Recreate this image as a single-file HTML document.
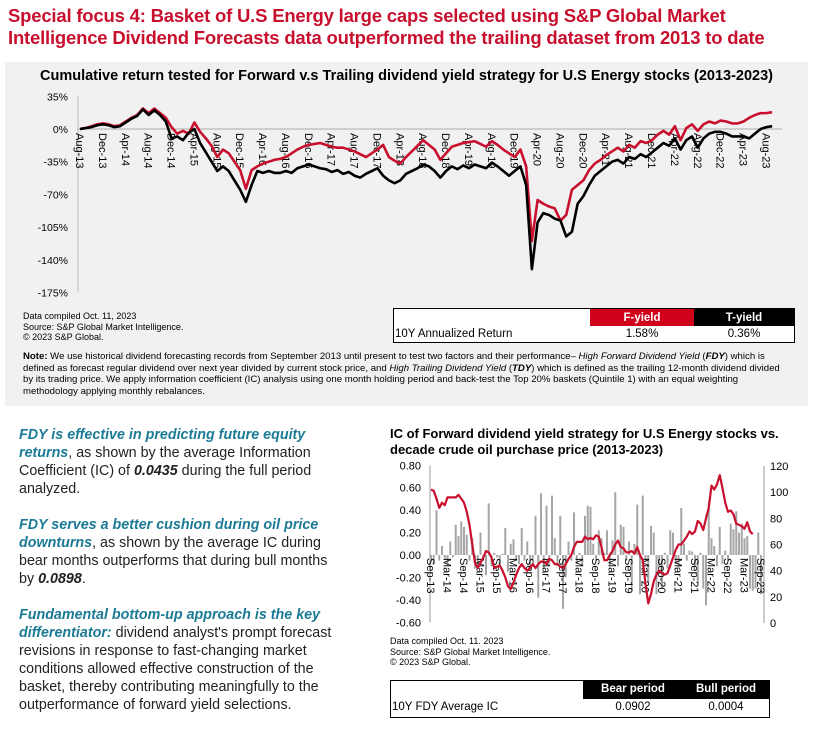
<!DOCTYPE html>
<html><head><meta charset="utf-8"><style>
*{margin:0;padding:0;box-sizing:border-box}
body{width:813px;height:725px;background:#fff;position:relative;overflow:hidden;font-family:"Liberation Sans",Arial,sans-serif;color:#000}
.abs{position:absolute}
.n{font-family:"Liberation Sans Narrow","Liberation Sans",sans-serif}
#hdr{left:8px;top:5px;color:#c8102e;font-weight:bold;font-size:18.5px;line-height:22px;letter-spacing:-0.2px}
#panel{left:5px;top:62px;width:803px;height:344px;background:#f1f1f1}
#ttl{left:0;top:68px;width:813px;text-align:center;font-weight:bold;font-size:14.5px}
.src{font-size:9px;line-height:10.5px}
#note{left:23px;top:351px;width:760px;font-size:9.6px;line-height:11.5px}
#lt{left:19px;top:426px;width:360px;font-size:14.3px;line-height:18px;color:#222;white-space:nowrap}
#lt p{margin-bottom:18px}
.tl{color:#1b7a95;font-weight:bold;font-style:italic}
</style></head><body>
<div class="abs" id="hdr">Special focus 4: Basket of U.S Energy large caps selected using S&amp;P Global Market<br>Intelligence Dividend Forecasts data outperformed the trailing dataset from 2013 to date</div>
<div class="abs" id="panel"></div>
<div class="abs n" id="ttl">Cumulative return tested for Forward v.s Trailing dividend yield strategy for U.S Energy stocks (2013-2023)</div>
<svg class="abs" style="left:0;top:0" width="813" height="725" id="top"></svg>
<div class="abs src n" style="left:23px;top:311px">Data compiled Oct. 11, 2023<br>Source: S&amp;P Global Market Intelligence.<br>© 2023 S&amp;P Global.</div>
<div class="abs n" style="left:393px;top:308px;width:402px;height:35px;border:1.5px solid #000;background:#fff;font-size:11.5px">
 <div class="abs" style="left:196px;top:0;width:104px;height:17px;background:#d0021b;color:#fff;font-weight:bold;text-align:center;line-height:19px">F-yield</div>
 <div class="abs" style="left:300px;top:0;width:100px;height:17px;background:#000;color:#fff;font-weight:bold;text-align:center;line-height:19px">T-yield</div>
 <div class="abs" style="left:1px;top:18px;line-height:15px">10Y Annualized Return</div>
 <div class="abs" style="left:196px;top:18px;width:104px;text-align:center;line-height:15px">1.58%</div>
 <div class="abs" style="left:300px;top:18px;width:100px;text-align:center;line-height:15px">0.36%</div>
</div>
<div class="abs n" id="note"><b>Note:</b> We use historical dividend forecasting records from September 2013 until present to test two factors and their performance– <i>High Forward Dividend Yield</i> (<b><i>FDY</i></b>) which is defined as forecast regular dividend over next year divided by current stock price, and <i>High Trailing Dividend Yield</i> (<b><i>TDY</i></b>) which is defined as the trailing 12-month dividend divided by its trading price. We apply information coefficient (IC) analysis using one month holding period and back-test the Top 20% baskets (Quintile 1) with an equal weighting methodology applying monthly rebalances.</div>
<div class="abs" id="lt">
<p><span class="tl">FDY is effective in predicting future equity<br>returns</span>, as shown by the average Information<br>Coefficient (IC) of <b><i>0.0435</i></b> during the full period<br>analyzed.</p>
<p><span class="tl">FDY serves a better cushion during oil price<br>downturns</span>, as shown by the average IC during<br>bear months outperforms that during bull months<br>by <b><i>0.0898</i></b>.</p>
<p><span class="tl">Fundamental bottom-up approach is the key<br>differentiator:</span> dividend analyst's prompt forecast<br>revisions in response to fast-changing market<br>conditions allowed effective construction of the<br>basket, thereby contributing meaningfully to the<br>outperformance of forward yield selections.</p>
</div>
<div class="abs" style="left:390px;top:426px;font-weight:bold;font-size:13px;line-height:16px">IC of Forward dividend yield strategy for U.S Energy stocks vs.<br>decade crude oil purchase price (2013-2023)</div>
<div class="abs src" style="left:390px;top:636px">Data compiled Oct. 11. 2023<br>Source: S&amp;P Global Market Intelligence.<br>© 2023 S&amp;P Global.</div>
<div class="abs" style="left:390px;top:680px;width:380px;height:38px;border:1.5px solid #000;background:#fff;font-size:11.5px">
 <div class="abs" style="left:192px;top:0;width:186px;height:18px;background:#000"></div>
 <div class="abs" style="left:192px;top:2px;width:100px;text-align:center;color:#fff;font-weight:bold">Bear period</div>
 <div class="abs" style="left:292px;top:2px;width:86px;text-align:center;color:#fff;font-weight:bold">Bull period</div>
 <div class="abs" style="left:1px;top:20px">10Y FDY Average IC</div>
 <div class="abs" style="left:192px;top:20px;width:100px;text-align:center">0.0902</div>
 <div class="abs" style="left:292px;top:20px;width:86px;text-align:center">0.0004</div>
</div>
<script>
const NS='http://www.w3.org/2000/svg';
// top chart data (Aug-13 .. Sep-23, monthly, %)
const fYield=[0,1,3,5,6,5,3,4,8,12,15,22,17,22,17,12,2,-5,-2,-5,7,-3,-10,-18,-30,-22,-26,-35,-44,-64,-44,-40,-37,-35,-33,-32,-30,-26,-22,-19,-17,-16,-15,-17,-19,-20,-20,-22,-24,-27,-30,-26,-22,-17,-30,-34,-37,-30,-24,-18,-12,-17,-22,-33,-26,-19,-17,-15,-14,-13,-16,-19,-13,-17,-22,-26,-30,-22,-40,-120,-76,-80,-83,-85,-98,-92,-65,-60,-55,-44,-37,-33,-28,-24,-20,-24,-17,-20,-13,-15,-12,-6,-2,-6,3,-12,1,5,-2,5,8,6,9,8,6,6,8,12,15,17,17,18];
const tYield=[0,1,2,4,5,4,2,3,7,11,14,21,15,20,15,8,-10,-8,-12,-4,0,-15,-25,-35,-45,-40,-45,-55,-65,-78,-60,-45,-47,-45,-47,-47,-45,-47,-42,-40,-38,-40,-42,-43,-46,-44,-48,-46,-50,-52,-48,-45,-42,-50,-55,-58,-55,-48,-45,-42,-38,-40,-45,-52,-45,-40,-43,-39,-42,-38,-40,-42,-36,-40,-45,-50,-45,-40,-60,-150,-100,-90,-92,-96,-98,-115,-110,-80,-72,-60,-50,-45,-40,-35,-33,-37,-30,-32,-27,-30,-25,-20,-15,-18,-10,-22,-12,-8,-20,-10,-5,-3,-3,-5,-8,-8,-8,-10,-5,0,2,3];
const topYTicks=[35,0,-35,-70,-105,-140,-175];
const topXLabels=['Aug-13','Dec-13','Apr-14','Aug-14','Dec-14','Apr-15','Aug-15','Dec-15','Apr-16','Aug-16','Dec-16','Apr-17','Aug-17','Dec-17','Apr-18','Aug-18','Dec-18','Apr-19','Aug-19','Dec-19','Apr-20','Aug-20','Dec-20','Apr-21','Aug-21','Dec-21','Apr-22','Aug-22','Dec-22','Apr-23','Aug-23'];
// bottom chart data
const icValues=[-0.05,-0.08,0.40,-0.05,0.08,-0.03,-0.10,0.12,-0.02,0.27,0.17,0.30,0.25,0.18,-0.05,0.15,-0.12,-0.10,0.20,-0.05,-0.18,0.46,-0.10,0.02,-0.02,-0.08,0.01,0.24,-0.15,0.10,0.14,-0.05,-0.08,0.24,-0.05,0.12,-0.12,-0.05,0.35,-0.38,0.55,-0.12,0.44,-0.08,0.53,0.15,-0.10,0.35,-0.48,-0.20,0.12,-0.05,0.38,-0.08,0.02,-0.10,0.35,0.44,0.43,0.10,-0.05,0.22,0.15,0.02,0.22,-0.10,0.13,0.56,-0.10,0.27,0.25,-0.05,0.12,-0.32,0.10,0.45,-0.35,0.53,-0.05,-0.25,0.26,0.20,-0.35,-0.10,-0.30,0.02,-0.12,0.22,0.20,-0.08,-0.12,0.42,0.10,-0.05,0.04,0.03,-0.10,-0.25,0.02,-0.30,-0.45,0.48,0.15,0.08,-0.10,0.25,-0.08,0.04,-0.05,0.28,0.23,0.39,0.20,0.28,0.15,0.17,-0.30,-0.32,-0.30,0.20,-0.35];
const oilPrice=[102,101,95,88,92,90,96,96,96,96,98,95,92,85,75,60,46,42,46,50,55,54,50,42,43,44,40,35,28,26,31,37,42,45,42,40,42,45,42,45,47,47,45,49,48,45,45,43,42,45,49,52,58,62,62,62,66,64,65,64,67,66,58,48,48,52,55,60,63,58,57,54,54,55,53,58,52,48,30,15,22,32,37,40,38,37,38,44,50,56,60,60,63,66,70,68,70,78,76,71,80,88,105,102,106,113,103,92,85,86,83,76,75,74,72,77,70,68];
const icLeftTicks=[0.8,0.6,0.4,0.2,0,-0.2,-0.4,-0.6];
const oilRightTicks=[120,100,80,60,40,20,0];
const icXLabels=['Sep-13','Mar-14','Sep-14','Mar-15','Sep-15','Mar-16','Sep-16','Mar-17','Sep-17','Mar-18','Sep-18','Mar-19','Sep-19','Mar-20','Sep-20','Mar-21','Sep-21','Mar-22','Sep-22','Mar-23','Sep-23'];

function mk(parent,tag,attrs){const e=document.createElementNS(NS,tag);for(const k in attrs)e.setAttribute(k,attrs[k]);parent.appendChild(e);return e;}
const svg=document.getElementById('top');

// ---- top chart ----
const tx=i=>80+i*5.72, ty=v=>129-v*(32.7/35);
const g1=mk(svg,'g',{});


mk(g1,'line',{x1:78,y1:ty(35),x2:78,y2:ty(-175),stroke:'#bbb','stroke-width':1});
mk(g1,'line',{x1:78,y1:ty(0),x2:782,y2:ty(0),stroke:'#aaa','stroke-width':1});
topYTicks.forEach(v=>{const t=mk(g1,'text',{x:68,y:ty(v)+4,'text-anchor':'end','font-size':10.5,'font-family':'Liberation Sans Narrow,Liberation Sans,sans-serif'});t.textContent=v+'%';

});
topXLabels.forEach((l,k)=>{const x=tx(k*4)-4,y=133;const t=mk(g1,'text',{x:x,y:y,transform:`rotate(90 ${x} ${y})`,'font-size':11,'font-family':'Liberation Sans Narrow,Liberation Sans,sans-serif'});t.textContent=l;

});
function line(g,arr,fx,fy,col,w,name){const p=mk(g,'polyline',{points:arr.map((v,i)=>fx(i)+','+fy(v)).join(' '),fill:'none',stroke:col,'stroke-width':w,'stroke-linejoin':'round'});

}
line(g1,fYield,tx,ty,'#c8102e',2.6,'f-yield-line');
line(g1,tYield,tx,ty,'#000',2.6,'t-yield-line');

// ---- bottom chart ----
const bx=i=>431+i*2.75, bl=v=>555-v*112.1, br=p=>623-p*157/120;
const g2=mk(svg,'g',{});


icValues.forEach((v,i)=>{const r=mk(g2,'rect',{x:bx(i)-1,y:Math.min(bl(v),bl(0)),width:2,height:Math.abs(bl(v)-bl(0)),fill:'#a6a6a6'});

});
mk(g2,'line',{x1:430,y1:bl(0.8),x2:430,y2:bl(-0.6),stroke:'#999','stroke-width':1});
mk(g2,'line',{x1:764,y1:br(120),x2:764,y2:br(0),stroke:'#999','stroke-width':1});
icLeftTicks.forEach(v=>{const t=mk(g2,'text',{x:421,y:bl(v)+4,'text-anchor':'end','font-size':11});t.textContent=v.toFixed(2);

});
oilRightTicks.forEach(v=>{const t=mk(g2,'text',{x:770,y:br(v)+4,'font-size':11});t.textContent=v;

});
icXLabels.forEach((l,k)=>{const x=bx(k*6)-4,y=558;const t=mk(g2,'text',{x:x,y:y,transform:`rotate(90 ${x} ${y})`,'font-size':11});t.textContent=l;

});
line(g2,oilPrice,bx,br,'#c8102e',2.2,'oil-price-line');
</script>
</body></html>
